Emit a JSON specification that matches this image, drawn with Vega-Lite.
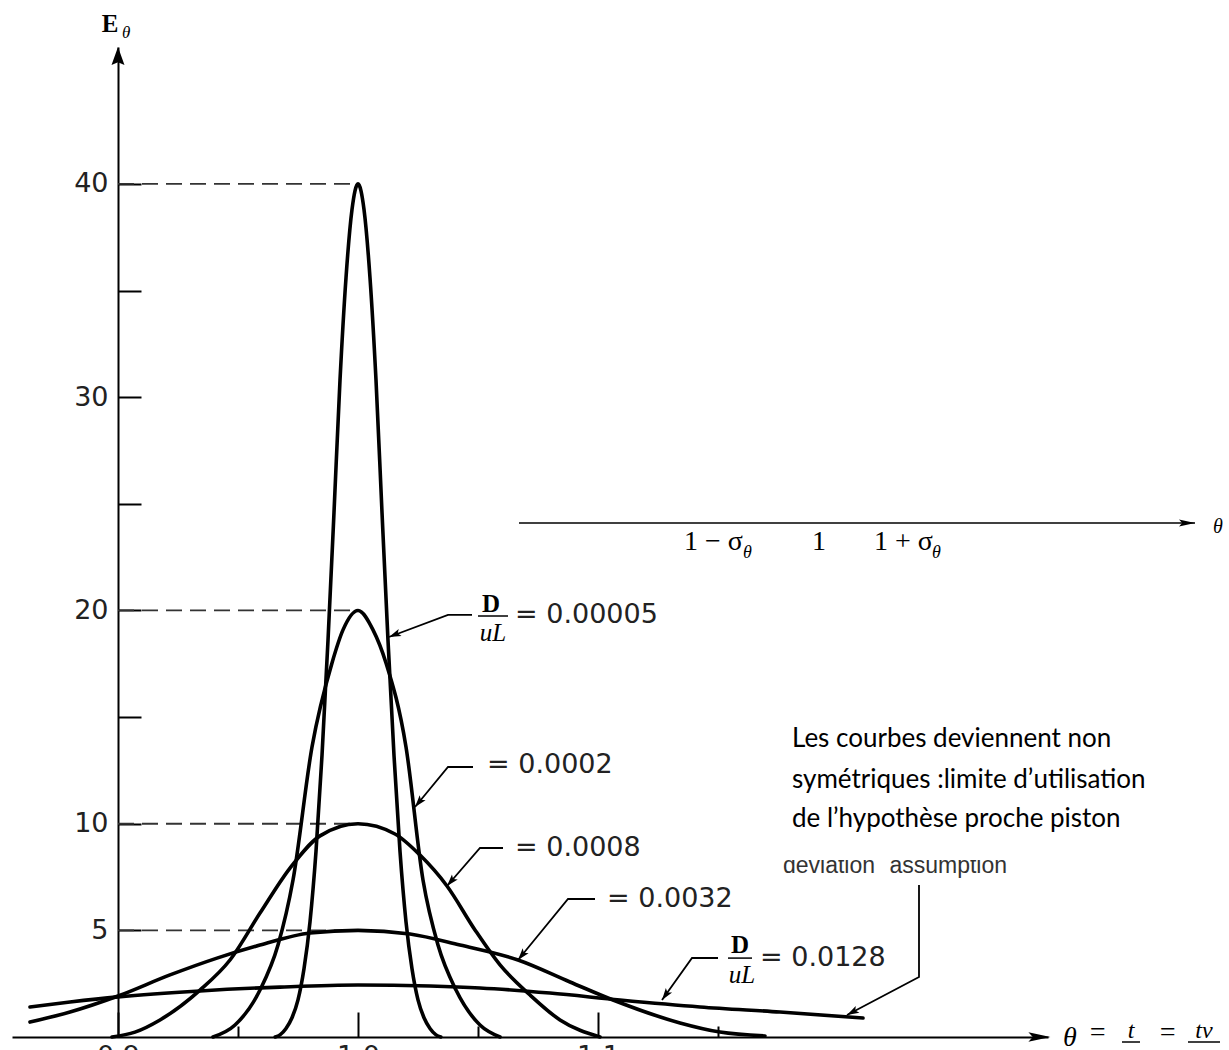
{
  "$schema": "https://vega.github.io/schema/vega-lite/v6.json",
  "width": 1036,
  "height": 990,
  "autosize": {"type": "none"},
  "padding": {"left": 12, "top": 47, "right": 181, "bottom": 13},
  "background": "white",
  "config": {"view": {"stroke": null}},
  "datasets": {
    "curves": [
      {"c": "a", "t": 0.9655, "E": 0},
      {"c": "a", "t": 0.9675, "E": 0.1},
      {"c": "a", "t": 0.97, "E": 0.4},
      {"c": "a", "t": 0.9725, "E": 0.9},
      {"c": "a", "t": 0.975, "E": 1.74},
      {"c": "a", "t": 0.9775, "E": 3.2},
      {"c": "a", "t": 0.98, "E": 5.4},
      {"c": "a", "t": 0.9825, "E": 8.7},
      {"c": "a", "t": 0.985, "E": 13.2},
      {"c": "a", "t": 0.9875, "E": 18.6},
      {"c": "a", "t": 0.99, "E": 24.6},
      {"c": "a", "t": 0.9925, "E": 30.8},
      {"c": "a", "t": 0.995, "E": 35.6},
      {"c": "a", "t": 0.9975, "E": 38.8},
      {"c": "a", "t": 1.0, "E": 40.0},
      {"c": "a", "t": 1.0025, "E": 38.8},
      {"c": "a", "t": 1.005, "E": 35.6},
      {"c": "a", "t": 1.0075, "E": 30.8},
      {"c": "a", "t": 1.01, "E": 24.6},
      {"c": "a", "t": 1.0125, "E": 18.6},
      {"c": "a", "t": 1.015, "E": 13.2},
      {"c": "a", "t": 1.0175, "E": 8.7},
      {"c": "a", "t": 1.02, "E": 5.4},
      {"c": "a", "t": 1.0225, "E": 3.2},
      {"c": "a", "t": 1.025, "E": 1.74},
      {"c": "a", "t": 1.0275, "E": 0.9},
      {"c": "a", "t": 1.03, "E": 0.4},
      {"c": "a", "t": 1.0325, "E": 0.1},
      {"c": "a", "t": 1.0345, "E": 0},
      {"c": "b", "t": 0.93958, "E": 0},
      {"c": "b", "t": 0.94875, "E": 0.56},
      {"c": "b", "t": 0.95917, "E": 2.2},
      {"c": "b", "t": 0.96667, "E": 4.31},
      {"c": "b", "t": 0.97292, "E": 7.36},
      {"c": "b", "t": 0.98083, "E": 13.6},
      {"c": "b", "t": 0.98917, "E": 17.54},
      {"c": "b", "t": 0.99375, "E": 19.09},
      {"c": "b", "t": 1.0, "E": 20.0},
      {"c": "b", "t": 1.00625, "E": 19.09},
      {"c": "b", "t": 1.01167, "E": 17.54},
      {"c": "b", "t": 1.02, "E": 13.6},
      {"c": "b", "t": 1.02708, "E": 7.36},
      {"c": "b", "t": 1.03333, "E": 4.31},
      {"c": "b", "t": 1.04083, "E": 2.2},
      {"c": "b", "t": 1.05083, "E": 0.56},
      {"c": "b", "t": 1.05917, "E": 0},
      {"c": "c", "t": 0.8975, "E": 0},
      {"c": "c", "t": 0.90708, "E": 0.23},
      {"c": "c", "t": 0.9175, "E": 0.8},
      {"c": "c", "t": 0.93417, "E": 2.2},
      {"c": "c", "t": 0.94667, "E": 3.61},
      {"c": "c", "t": 0.95917, "E": 5.81},
      {"c": "c", "t": 0.97167, "E": 7.92},
      {"c": "c", "t": 0.98417, "E": 9.43},
      {"c": "c", "t": 1.0, "E": 10.0},
      {"c": "c", "t": 1.01542, "E": 9.52},
      {"c": "c", "t": 1.02583, "E": 8.53},
      {"c": "c", "t": 1.03708, "E": 7.08},
      {"c": "c", "t": 1.04875, "E": 5.02},
      {"c": "c", "t": 1.05917, "E": 3.38},
      {"c": "c", "t": 1.07167, "E": 1.97},
      {"c": "c", "t": 1.08417, "E": 0.8},
      {"c": "c", "t": 1.10083, "E": 0},
      {"c": "d", "t": 0.86333, "E": 0.7},
      {"c": "d", "t": 0.88, "E": 1.17},
      {"c": "d", "t": 0.9, "E": 1.92},
      {"c": "d", "t": 0.92167, "E": 2.91},
      {"c": "d", "t": 0.94125, "E": 3.7},
      {"c": "d", "t": 0.95917, "E": 4.31},
      {"c": "d", "t": 0.98, "E": 4.88},
      {"c": "d", "t": 1.0, "E": 5.0},
      {"c": "d", "t": 1.02167, "E": 4.83},
      {"c": "d", "t": 1.0425, "E": 4.31},
      {"c": "d", "t": 1.06667, "E": 3.61},
      {"c": "d", "t": 1.08833, "E": 2.58},
      {"c": "d", "t": 1.10625, "E": 1.735},
      {"c": "d", "t": 1.13417, "E": 0.66},
      {"c": "d", "t": 1.15083, "E": 0.23},
      {"c": "d", "t": 1.16958, "E": 0.05},
      {"c": "e", "t": 0.86333, "E": 1.41},
      {"c": "e", "t": 0.88, "E": 1.64},
      {"c": "e", "t": 0.9, "E": 1.88},
      {"c": "e", "t": 0.93417, "E": 2.16},
      {"c": "e", "t": 0.9675, "E": 2.34},
      {"c": "e", "t": 1.0, "E": 2.44},
      {"c": "e", "t": 1.03, "E": 2.39},
      {"c": "e", "t": 1.05083, "E": 2.3},
      {"c": "e", "t": 1.08, "E": 2.06},
      {"c": "e", "t": 1.10917, "E": 1.735},
      {"c": "e", "t": 1.1425, "E": 1.41},
      {"c": "e", "t": 1.17583, "E": 1.17},
      {"c": "e", "t": 1.21042, "E": 0.89}
    ],
    "dash": [
      {"E": 40, "t": 0.9, "t2": 0.9992},
      {"E": 20, "t": 0.9, "t2": 0.998},
      {"E": 10, "t": 0.9, "t2": 0.998},
      {"E": 5, "t": 0.9, "t2": 0.999}
    ],
    "leaders": [
      {"id": "a", "i": 0, "t": 1.0475, "E": 19.79},
      {"id": "a", "i": 1, "t": 1.0375, "E": 19.79},
      {"id": "a", "i": 2, "t": 1.01292, "E": 18.757},
      {"id": "b", "i": 0, "t": 1.04792, "E": 12.661},
      {"id": "b", "i": 1, "t": 1.0375, "E": 12.661},
      {"id": "b", "i": 2, "t": 1.02375, "E": 10.785},
      {"id": "c", "i": 0, "t": 1.06042, "E": 8.863},
      {"id": "c", "i": 1, "t": 1.05083, "E": 8.863},
      {"id": "c", "i": 2, "t": 1.03708, "E": 7.081},
      {"id": "d", "i": 0, "t": 1.09875, "E": 6.471},
      {"id": "d", "i": 1, "t": 1.0875, "E": 6.471},
      {"id": "d", "i": 2, "t": 1.06667, "E": 3.611},
      {"id": "e", "i": 0, "t": 1.15, "E": 3.705},
      {"id": "e", "i": 1, "t": 1.13917, "E": 3.705},
      {"id": "e", "i": 2, "t": 1.12667, "E": 1.735},
      {"id": "f", "i": 0, "t": 1.23375, "E": 7.128},
      {"id": "f", "i": 1, "t": 1.23375, "E": 2.814},
      {"id": "f", "i": 2, "t": 1.20375, "E": 1.032}
    ],
    "tips": [
      {"id": "a", "t": 1.01292, "E": 18.757},
      {"id": "b", "t": 1.02375, "E": 10.785},
      {"id": "c", "t": 1.03708, "E": 7.081},
      {"id": "d", "t": 1.06667, "E": 3.611},
      {"id": "e", "t": 1.12667, "E": 1.735},
      {"id": "f", "t": 1.20375, "E": 1.032},
      {"id": "yax", "t": 0.9, "E": 46.42},
      {"id": "xax", "t": 1.2885, "E": 0},
      {"id": "inset", "t": 1.34875, "E": 24.1}
    ],
    "vals": [
      {"txt": "= 0.00005", "t": 1.06542, "E": 19.79},
      {"txt": "= 0.0002", "t": 1.05375, "E": 12.755},
      {"txt": "= 0.0008", "t": 1.06542, "E": 8.863},
      {"txt": "= 0.0032", "t": 1.10375, "E": 6.471},
      {"txt": "= 0.0128", "t": 1.1675, "E": 3.705}
    ],
    "dnum": [{"t": 1.05542, "E": 19.93}, {"t": 1.15917, "E": 3.94}],
    "dden": [{"t": 1.05625, "E": 18.57}, {"t": 1.16, "E": 2.53}],
    "fbar": [
      {"t": 1.05, "t2": 1.0625, "E": 19.74},
      {"t": 1.15417, "t2": 1.16417, "E": 3.7},
      {"t": 1.31833, "t2": 1.32583, "E": -0.2345},
      {"t": 1.34583, "t2": 1.35917, "E": -0.2345}
    ],
    "french": [
      {"txt": "Les courbes deviennent non", "t": 1.18083, "E": 13.599},
      {"txt": "symétriques :limite d’utilisation", "t": 1.18083, "E": 11.676},
      {"txt": "de l’hypothèse proche piston", "t": 1.18083, "E": 9.848}
    ],
    "deviation": [{"txt": "deviation⁻ assumption", "t": 1.17708, "E": 7.69}],
    "mask": [{"t": 1.17, "t2": 1.37, "E": 8.3, "E2": 16}],
    "inset": [{"t": 1.06708, "t2": 1.34875, "E": 24.1}],
    "insetlab": [
      {"txt": "1 − σ", "t": 1.13583, "E": 22.84},
      {"txt": "1", "t": 1.18917, "E": 22.84},
      {"txt": "1 + σ", "t": 1.215, "E": 22.84}
    ],
    "insetsub": [
      {"txt": "θ", "t": 1.16042, "E": 22.46},
      {"txt": "θ", "t": 1.23917, "E": 22.46}
    ],
    "insetend": [{"txt": "θ", "t": 1.35625, "E": 23.63}],
    "ytitle": [{"txt": "E", "t": 0.89667, "E": 47.13}],
    "ytsub": [{"txt": "θ", "t": 0.90167, "E": 46.85}],
    "xt_big": [
      {"txt": "θ", "t": 1.29375, "E": -0.42},
      {"txt": "=", "t": 1.30417, "E": -0.2},
      {"txt": "=", "t": 1.33333, "E": -0.2}
    ],
    "xt_frac": [
      {"txt": "t", "t": 1.32208, "E": -0.047},
      {"txt": "tv", "t": 1.3525, "E": -0.047}
    ]
  },
  "encoding": {
    "x": {
      "field": "t",
      "type": "quantitative",
      "scale": {"domain": [0.855833, 1.2875], "nice": false, "zero": false},
      "axis": {
        "values": [0.9, 0.95, 1, 1.05, 1.1, 1.15],
        "format": ".1f",
        "labelExpr": "round(datum.value*100)%10==5 ? '' : datum.label",
        "tickSize": {"condition": {"test": "round(datum.value*100)%10==5", "value": -11}, "value": -25},
        "labelPadding": 31,
        "labelFont": "DejaVu Sans",
        "labelFontSize": 27,
        "labelColor": "#222",
        "domainColor": "#000",
        "domainWidth": 2,
        "tickColor": "#000",
        "tickWidth": 2,
        "grid": false,
        "title": null,
        "labelFlush": false,
        "labelOverlap": false
      }
    },
    "y": {
      "field": "E",
      "type": "quantitative",
      "scale": {"domain": [0, 46.42], "nice": false, "zero": false},
      "axis": {
        "values": [5, 10, 15, 20, 25, 30, 35, 40],
        "labelExpr": "(datum.value==15||datum.value==25||datum.value==35) ? '' : datum.label",
        "offset": -106,
        "tickSize": -23,
        "labelPadding": 33,
        "labelFont": "DejaVu Sans",
        "labelFontSize": 27,
        "labelColor": "#222",
        "domainColor": "#000",
        "domainWidth": 2,
        "tickColor": "#000",
        "tickWidth": 2,
        "grid": false,
        "title": null,
        "labelOverlap": false
      }
    }
  },
  "layer": [
    {
      "data": {"name": "dash"},
      "mark": {"type": "rule", "strokeDash": [16, 8], "strokeWidth": 1.8, "color": "#333"},
      "encoding": {"x2": {"field": "t2"}}
    },
    {
      "data": {"name": "curves"},
      "mark": {"type": "line", "interpolate": "monotone", "strokeWidth": 3.6, "color": "#000", "strokeJoin": "round", "strokeCap": "round"},
      "encoding": {"detail": {"field": "c"}}
    },
    {
      "data": {"name": "leaders"},
      "mark": {"type": "line", "strokeWidth": 1.8, "color": "#000"},
      "encoding": {"detail": {"field": "id"}, "order": {"field": "i"}}
    },
    {
      "data": {"name": "tips"},
      "transform": [{"filter": "datum.id=='a'"}],
      "mark": {"type": "point", "shape": "M0,0L-0.32,1L0,0.78L0.32,1Z", "size": 576, "angle": 248, "filled": true, "color": "#000", "opacity": 1, "strokeWidth": 0}
    },
    {
      "data": {"name": "tips"},
      "transform": [{"filter": "datum.id=='b'"}],
      "mark": {"type": "point", "shape": "M0,0L-0.32,1L0,0.78L0.32,1Z", "size": 576, "angle": 219.5, "filled": true, "color": "#000", "opacity": 1, "strokeWidth": 0}
    },
    {
      "data": {"name": "tips"},
      "transform": [{"filter": "datum.id=='c'"}],
      "mark": {"type": "point", "shape": "M0,0L-0.32,1L0,0.78L0.32,1Z", "size": 576, "angle": 221, "filled": true, "color": "#000", "opacity": 1, "strokeWidth": 0}
    },
    {
      "data": {"name": "tips"},
      "transform": [{"filter": "datum.id=='d'"}],
      "mark": {"type": "point", "shape": "M0,0L-0.32,1L0,0.78L0.32,1Z", "size": 576, "angle": 219.4, "filled": true, "color": "#000", "opacity": 1, "strokeWidth": 0}
    },
    {
      "data": {"name": "tips"},
      "transform": [{"filter": "datum.id=='e'"}],
      "mark": {"type": "point", "shape": "M0,0L-0.32,1L0,0.78L0.32,1Z", "size": 576, "angle": 215.5, "filled": true, "color": "#000", "opacity": 1, "strokeWidth": 0}
    },
    {
      "data": {"name": "tips"},
      "transform": [{"filter": "datum.id=='f'"}],
      "mark": {"type": "point", "shape": "M0,0L-0.32,1L0,0.78L0.32,1Z", "size": 576, "angle": 242, "filled": true, "color": "#000", "opacity": 1, "strokeWidth": 0}
    },
    {
      "data": {"name": "tips"},
      "transform": [{"filter": "datum.id=='yax'"}],
      "mark": {"type": "point", "shape": "M0,0L-0.36,1L0,0.85L0.36,1Z", "size": 1296, "angle": 0, "filled": true, "color": "#000", "opacity": 1, "strokeWidth": 0}
    },
    {
      "data": {"name": "tips"},
      "transform": [{"filter": "datum.id=='xax'"}],
      "mark": {"type": "point", "shape": "M0,0L-0.22,1L0,0.8L0.22,1Z", "size": 1936, "angle": 90, "filled": true, "color": "#000", "opacity": 1, "strokeWidth": 0}
    },
    {
      "data": {"name": "tips"},
      "transform": [{"filter": "datum.id=='inset'"}],
      "mark": {"type": "point", "shape": "M0,0L-0.22,1L0,0.8L0.22,1Z", "size": 1024, "angle": 90, "filled": true, "color": "#000", "opacity": 1, "strokeWidth": 0}
    },
    {
      "data": {"name": "vals"},
      "mark": {"type": "text", "align": "left", "baseline": "middle", "font": "DejaVu Sans", "fontSize": 27, "color": "#222"},
      "encoding": {"text": {"field": "txt"}}
    },
    {
      "data": {"name": "dnum"},
      "mark": {"type": "text", "text": "D", "align": "center", "baseline": "alphabetic", "font": "Liberation Serif", "fontWeight": "bold", "fontSize": 25, "color": "#000"}
    },
    {
      "data": {"name": "dden"},
      "mark": {"type": "text", "text": "uL", "align": "center", "baseline": "alphabetic", "font": "Liberation Serif", "fontStyle": "italic", "fontSize": 25, "color": "#000"}
    },
    {
      "data": {"name": "fbar"},
      "mark": {"type": "rule", "strokeWidth": 1.5, "color": "#000"},
      "encoding": {"x2": {"field": "t2"}}
    },
    {
      "data": {"name": "deviation"},
      "mark": {"type": "text", "align": "left", "baseline": "alphabetic", "font": "Liberation Sans", "fontSize": 23, "color": "#333"},
      "encoding": {"text": {"field": "txt"}}
    },
    {
      "data": {"name": "mask"},
      "mark": {"type": "rect", "color": "white", "opacity": 1},
      "encoding": {"x2": {"field": "t2"}, "y2": {"field": "E2"}}
    },
    {
      "data": {"name": "french"},
      "mark": {"type": "text", "align": "left", "baseline": "alphabetic", "font": "Lato", "fontSize": 26, "color": "#000"},
      "encoding": {"text": {"field": "txt"}}
    },
    {
      "data": {"name": "inset"},
      "mark": {"type": "rule", "strokeWidth": 1.6, "color": "#000"},
      "encoding": {"x2": {"field": "t2"}}
    },
    {
      "data": {"name": "insetlab"},
      "mark": {"type": "text", "align": "left", "baseline": "alphabetic", "font": "Liberation Serif", "fontSize": 28, "color": "#000"},
      "encoding": {"text": {"field": "txt"}}
    },
    {
      "data": {"name": "insetsub"},
      "mark": {"type": "text", "align": "left", "baseline": "alphabetic", "font": "Liberation Serif", "fontStyle": "italic", "fontSize": 18, "color": "#000"},
      "encoding": {"text": {"field": "txt"}}
    },
    {
      "data": {"name": "insetend"},
      "mark": {"type": "text", "align": "left", "baseline": "alphabetic", "font": "Liberation Serif", "fontStyle": "italic", "fontSize": 20, "color": "#000"},
      "encoding": {"text": {"field": "txt"}}
    },
    {
      "data": {"name": "ytitle"},
      "mark": {"type": "text", "align": "center", "baseline": "alphabetic", "font": "Liberation Serif", "fontWeight": "bold", "fontSize": 25, "color": "#000"},
      "encoding": {"text": {"field": "txt"}}
    },
    {
      "data": {"name": "ytsub"},
      "mark": {"type": "text", "align": "left", "baseline": "alphabetic", "font": "Liberation Serif", "fontStyle": "italic", "fontSize": 17, "color": "#000"},
      "encoding": {"text": {"field": "txt"}}
    },
    {
      "data": {"name": "xt_big"},
      "mark": {"type": "text", "align": "left", "baseline": "alphabetic", "font": "Liberation Serif", "fontStyle": "italic", "fontSize": 28, "color": "#000"},
      "encoding": {"text": {"field": "txt"}}
    },
    {
      "data": {"name": "xt_frac"},
      "mark": {"type": "text", "align": "center", "baseline": "alphabetic", "font": "Liberation Serif", "fontStyle": "italic", "fontSize": 24, "color": "#000"},
      "encoding": {"text": {"field": "txt"}}
    }
  ]
}
